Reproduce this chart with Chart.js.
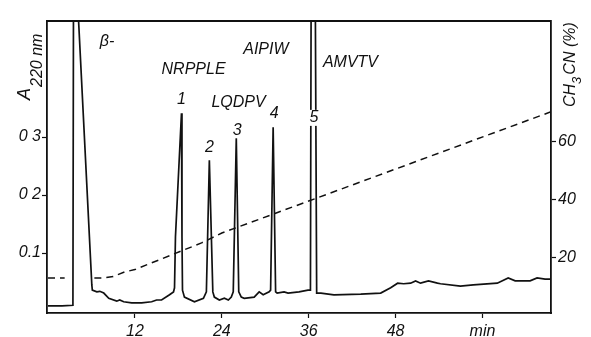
<!DOCTYPE html>
<html>
<head>
<meta charset="utf-8">
<script src="https://cdn.jsdelivr.net/npm/chart.js@4/dist/chart.umd.min.js"></script>
<style>
  body { margin: 0; background: #fff; }
  #wrap { width: 591px; height: 337px; position: relative; }
</style>
</head>
<body>
<div id="wrap"><canvas id="chromChart"></canvas></div>
<script>
// Chromatogram trace (time in min, absorbance at 220 nm)
const timeMin = [
  0, 1.93, 3.44, 3.53, 3.74, 6.05, 6.12, 6.74, 7.15, 7.7, 8.39, 9.49, 9.9, 10.45,
  11.55, 12.93, 14.31, 14.99, 15.68, 16.78, 17.33, 17.47, 17.6, 18.43, 18.5, 18.57,
  18.84, 20.22, 21.46, 21.87, 22.28, 22.76, 22.97, 23.66, 24.35, 24.9, 25.31, 25.58,
  26.0, 26.34, 26.69, 27.1, 28.47, 29.16, 29.71, 30.54, 30.74, 31.09, 31.43, 31.64,
  32.6, 33.15, 34.66, 35.9, 36.24, 36.35, 36.88, 37.1, 37.69, 39.48, 43.19, 45.94,
  47.32, 48.28, 49.11, 50.07, 50.76, 51.44, 52.54, 53.78, 54.2, 56.95, 58.73, 62.04,
  63.55, 64.51, 66.57, 67.54, 68.64, 69.46
];
const absorbance = [
  0.009, 0.009, 0.010, 0.62, 0.62, 0.045, 0.036, 0.033, 0.034, 0.031, 0.022, 0.017, 0.019, 0.016,
  0.014, 0.014, 0.016, 0.019, 0.019, 0.028, 0.033, 0.040, 0.128, 0.341, 0.128, 0.036,
  0.024, 0.016, 0.022, 0.033, 0.260, 0.033, 0.024, 0.019, 0.022, 0.019, 0.024, 0.033,
  0.298, 0.033, 0.024, 0.022, 0.024, 0.033, 0.028, 0.033, 0.036, 0.317, 0.033, 0.031,
  0.033, 0.031, 0.033, 0.036, 0.036, 0.62, 0.62, 0.031, 0.031, 0.028, 0.029, 0.031,
  0.040, 0.048, 0.047, 0.048, 0.052, 0.048, 0.052, 0.048, 0.047, 0.043, 0.045, 0.048,
  0.057, 0.052, 0.052, 0.057, 0.055, 0.055
];

// Acetonitrile gradient (dashed), null = gap behind the first peak
const gradTime = [0, 2.3, 2.4, 6.4, 7.5, 9, 10.6, 12, 14.3, 17, 21.2, 24, 69.46];
const gradPct = [13.1, 13.1, null, 13.1, 13.1, 13.6, 15.2, 16.0, 18.3, 21.0, 25.2, 28.6, 70.4];

// Tick labels
const xTicks = [12, 24, 36, 48, 60];
const xTickLabels = ["12", "24", "36", "48", "min"];
const yTicks = [0.1, 0.2, 0.3];
const yTickLabels = ["0.1", "0 2", "0 3"];
const y2Ticks = [20, 40, 60];

// Peak numbers and peptide names
const peakNums = ["1", "2", "3", "4", "5"];
const peakNumTime = [18.43, 22.28, 26.13, 31.22, 36.73];
const peakNumA = [0.364, 0.281, 0.312, 0.341, 0.333];
const peptideNames = ["\u03b2-", "NRPPLE", "LQDPV", "AIPIW", "AMVTV"];
const peptideTime = [7.15, 15.68, 22.56, 26.96, 37.96];
const peptideA = [0.464, 0.416, 0.359, 0.45, 0.429];

const INK = "#111";
const FONT = "'Liberation Sans', Arial, sans-serif";

Chart.defaults.font.family = FONT;
Chart.defaults.font.style = "italic";
Chart.defaults.font.size = 16;
Chart.defaults.color = INK;

const annotations = {
  id: "annotations",
  afterDraw(chart) {
    const ctx = chart.ctx;
    const area = chart.chartArea;
    const x = chart.scales.x;
    const y = chart.scales.y;

    ctx.save();
    // top frame line
    ctx.strokeStyle = INK;
    ctx.lineWidth = 1.8;
    ctx.beginPath();
    ctx.moveTo(area.left, area.top);
    ctx.lineTo(area.right, area.top);
    ctx.stroke();

    ctx.font = `italic 16px ${FONT}`;
    ctx.textBaseline = "middle";

    ctx.textAlign = "center";
    peakNums.forEach((t, i) => {
      const px = x.getPixelForValue(peakNumTime[i]);
      const py = y.getPixelForValue(peakNumA[i]);
      // the off-scale peak 5 is broken where its number sits
      ctx.fillStyle = "#fff";
      ctx.fillRect(px - 5, py - 8, 10, 16);
      ctx.fillStyle = INK;
      ctx.fillText(t, px, py);
    });

    ctx.textAlign = "left";
    peptideNames.forEach((t, i) => {
      ctx.fillText(t, x.getPixelForValue(peptideTime[i]), y.getPixelForValue(peptideA[i]));
    });

    // left axis title: A with subscript 220 nm
    ctx.save();
    ctx.translate(30, 100);
    ctx.rotate(-Math.PI / 2);
    ctx.textBaseline = "alphabetic";
    ctx.font = `italic 18px ${FONT}`;
    ctx.fillText("A", 0, 0);
    const aw = ctx.measureText("A").width;
    ctx.font = `italic 16px ${FONT}`;
    ctx.fillText("220 nm", aw + 1, 12);
    ctx.restore();

    // right axis title: CH3 CN (%)
    ctx.save();
    ctx.translate(575, 107);
    ctx.rotate(-Math.PI / 2);
    ctx.textBaseline = "alphabetic";
    ctx.font = `italic 16px ${FONT}`;
    ctx.fillText("CH", 0, 0);
    let w = ctx.measureText("CH").width;
    ctx.font = `italic 13px ${FONT}`;
    ctx.fillText("3", w, 6);
    w += ctx.measureText("3").width + 2;
    ctx.font = `italic 16px ${FONT}`;
    ctx.fillText("CN (%)", w, 0);
    ctx.restore();

    ctx.restore();
  },
};

const axisGrid = { drawOnChartArea: false, tickLength: 5, color: INK, tickWidth: 1.2 };
const axisBorder = { color: INK, width: 1.8 };

new Chart(document.getElementById("chromChart"), {
  type: "line",
  data: {
    datasets: [
      {
        label: "A220",
        data: timeMin.map((t, i) => ({ x: t, y: absorbance[i] })),
        borderColor: INK,
        borderWidth: 1.7,
        pointRadius: 0,
        tension: 0,
        yAxisID: "y",
      },
      {
        label: "CH3CN",
        data: gradTime.map((t, i) => ({ x: t, y: gradPct[i] })),
        borderColor: INK,
        borderWidth: 1.5,
        borderDash: [7, 5],
        pointRadius: 0,
        tension: 0,
        spanGaps: false,
        yAxisID: "y1",
      },
    ],
  },
  options: {
    responsive: true,
    maintainAspectRatio: false,
    animation: false,
    layout: { padding: { top: 21, left: 0, right: 0, bottom: 0 } },
    plugins: { legend: { display: false }, tooltip: { enabled: false } },
    scales: {
      x: {
        type: "linear",
        position: "bottom",
        min: -0.14,
        max: 69.46,
        afterBuildTicks: (s) => { s.ticks = xTicks.map((v) => ({ value: v })); },
        afterFit: (s) => { s.height = 24; },
        ticks: { callback: (v, i) => xTickLabels[i], maxRotation: 0, autoSkip: false, padding: 4 },
        grid: axisGrid,
        border: axisBorder,
      },
      y: {
        position: "left",
        min: -0.0034,
        max: 0.5,
        afterBuildTicks: (s) => { s.ticks = yTicks.map((v) => ({ value: v })); },
        afterFit: (s) => { s.width = 47; },
        ticks: { callback: (v, i) => yTickLabels[i], padding: 1 },
        grid: axisGrid,
        border: axisBorder,
      },
      y1: {
        position: "right",
        min: 1.03,
        max: 101.7,
        afterBuildTicks: (s) => { s.ticks = y2Ticks.map((v) => ({ value: v })); },
        afterFit: (s) => { s.width = 40; },
        ticks: { callback: (v) => String(v), padding: 2 },
        grid: axisGrid,
        border: axisBorder,
      },
    },
  },
  plugins: [annotations],
});
</script>
</body>
</html>
